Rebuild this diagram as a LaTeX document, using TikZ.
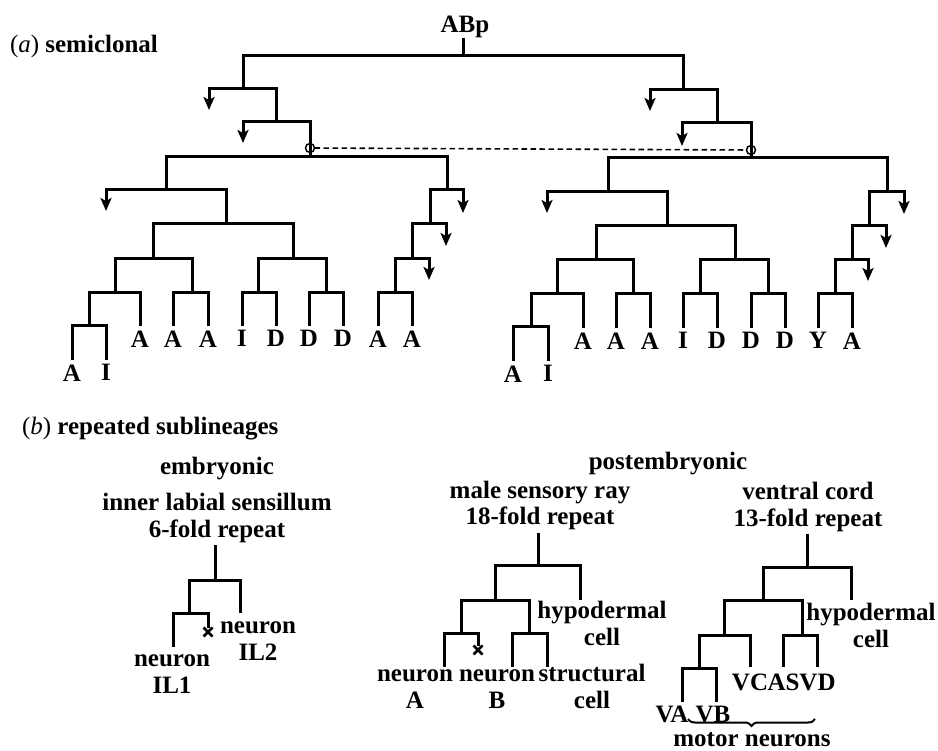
\documentclass[tikz,border=0pt]{standalone}
\usepackage{fontspec}
\setmainfont{Liberation Serif}
\usetikzlibrary{arrows.meta,shapes.misc,decorations.pathreplacing}
\begin{document}
\begin{tikzpicture}[x=1pt,y=-1pt,
  every node/.style={font=\fontsize{25}{27}\selectfont\bfseries, inner sep=0pt, outer sep=0pt},
  branch/.style={line width=3pt, line cap=butt, line join=miter},
  die/.style={branch, -{Stealth[length=13pt,width=11pt,inset=3pt]}},
  leaf/.style={anchor=north, inner ysep=4.5pt},
  lab/.style={anchor=base, align=center},
  title/.style={anchor=base, align=center, inner ysep=3pt},
  ring/.style={circle, draw, line width=1.5pt, minimum size=9pt},
  kill/.style={cross out, draw, line width=2.8pt, minimum size=9pt},
  fate/.style={dash pattern=on 5.5pt off 3.5pt, line width=1.6pt},
  clamp/.style={decorate, decoration={brace, mirror, amplitude=7pt}, line width=2pt}
]
\useasboundingbox (0,0) rectangle (938,751);

% ---------------- (a) semiclonal lineage of ABp ----------------
\node[anchor=base west] (capa) at (10,53) {\mdseries(\textit{a})\ \bfseries semiclonal};
\node[anchor=base] (ABp) at (465,33) {ABp};
\coordinate (a0) at (463,56);
\draw[branch] (a0 |- ABp.south) -- (a0);

% left half
\coordinate (a1) at (243,89);  \coordinate (a1d) at (209,110);
\coordinate (a2) at (276,122); \coordinate (a2d) at (243,143);
\coordinate (L)  at (310,157);
\coordinate (La) at (166,190); \coordinate (Lad) at (106,211);
\coordinate (Lb) at (226,224);
\coordinate (Lc) at (153,259);
\coordinate (Ld) at (115,293);
\coordinate (Le) at (89,326);
\coordinate (Lf) at (192,293);
\coordinate (Lg) at (293,259);
\coordinate (Lh) at (258,293);
\coordinate (Li) at (326,293);
\coordinate (Lj) at (447,190); \coordinate (Ljd) at (463,213);
\coordinate (Lk) at (430,224); \coordinate (Lkd) at (446,246);
\coordinate (Ll) at (412,259); \coordinate (Lld) at (429,280);
\coordinate (Lm) at (395,293);

\node[leaf] (t1)  at (72,360)  {A};
\node[leaf] (t2)  at (106,360) {I};
\node[leaf] (t3)  at (140,326) {A};
\node[leaf] (t4)  at (173,326) {A};
\node[leaf] (t5)  at (208,326) {A};
\node[leaf] (t6)  at (242,326) {I};
\node[leaf] (t7)  at (276,326) {D};
\node[leaf] (t8)  at (309,326) {D};
\node[leaf] (t9)  at (343,326) {D};
\node[leaf] (t10) at (378,326) {A};
\node[leaf] (t11) at (412,326) {A};

% right half
\coordinate (b1) at (683,90);  \coordinate (b1d) at (650,111);
\coordinate (b2) at (717,123); \coordinate (b2d) at (682,146);
\coordinate (R)  at (751,158);
\coordinate (Ra) at (608,192); \coordinate (Rad) at (547,213);
\coordinate (Rb) at (667,226);
\coordinate (Rc) at (596,260);
\coordinate (Rd) at (557,294);
\coordinate (Re) at (531,327);
\coordinate (Rf) at (633,294);
\coordinate (Rg) at (735,260);
\coordinate (Rh) at (700,294);
\coordinate (Ri) at (768,294);
\coordinate (Rj) at (887,192); \coordinate (Rjd) at (904,214);
\coordinate (Rk) at (869,226); \coordinate (Rkd) at (886,248);
\coordinate (Rl) at (852,260); \coordinate (Rld) at (868,281);
\coordinate (Rm) at (835,294);

\node[leaf] (u1)  at (513,361) {A};
\node[leaf] (u2)  at (548,361) {I};
\node[leaf] (u3)  at (583,328) {A};
\node[leaf] (u4)  at (616,328) {A};
\node[leaf] (u5)  at (650,328) {A};
\node[leaf] (u6)  at (683,328) {I};
\node[leaf] (u7)  at (717,328) {D};
\node[leaf] (u8)  at (751,328) {D};
\node[leaf] (u9)  at (785,328) {D};
\node[leaf] (u10) at (818,328) {Y};
\node[leaf] (u11) at (852,328) {A};

% branches, left
\draw[branch] (a1) |- (a0) -| (b1);
\draw[die] (a1) -| (a1d);
\draw[branch] (a1) -| (a2);
\draw[die] (a2) -| (a2d);
\draw[branch] (a2) -| (L);
\draw[branch] (La) |- (L) -| (Lj);
\draw[die] (La) -| (Lad);
\draw[branch] (La) -| (Lb);
\draw[branch] (Lc) |- (Lb) -| (Lg);
\draw[branch] (Ld) |- (Lc) -| (Lf);
\draw[branch] (Le) |- (Ld) -| (t3.north);
\draw[branch] (t1.north) |- (Le) -| (t2.north);
\draw[branch] (t4.north) |- (Lf) -| (t5.north);
\draw[branch] (Lh) |- (Lg) -| (Li);
\draw[branch] (t6.north) |- (Lh) -| (t7.north);
\draw[branch] (t8.north) |- (Li) -| (t9.north);
\draw[branch] (Lk) |- (Lj);  \draw[die] (Lj) -| (Ljd);
\draw[branch] (Ll) |- (Lk);  \draw[die] (Lk) -| (Lkd);
\draw[branch] (Lm) |- (Ll);  \draw[die] (Ll) -| (Lld);
\draw[branch] (t10.north) |- (Lm) -| (t11.north);

% branches, right
\draw[die] (b1) -| (b1d);
\draw[branch] (b1) -| (b2);
\draw[die] (b2) -| (b2d);
\draw[branch] (b2) -| (R);
\draw[branch] (Ra) |- (R) -| (Rj);
\draw[die] (Ra) -| (Rad);
\draw[branch] (Ra) -| (Rb);
\draw[branch] (Rc) |- (Rb) -| (Rg);
\draw[branch] (Rd) |- (Rc) -| (Rf);
\draw[branch] (Re) |- (Rd) -| (u3.north);
\draw[branch] (u1.north) |- (Re) -| (u2.north);
\draw[branch] (u4.north) |- (Rf) -| (u5.north);
\draw[branch] (Rh) |- (Rg) -| (Ri);
\draw[branch] (u6.north) |- (Rh) -| (u7.north);
\draw[branch] (u8.north) |- (Ri) -| (u9.north);
\draw[branch] (Rk) |- (Rj);  \draw[die] (Rj) -| (Rjd);
\draw[branch] (Rl) |- (Rk);  \draw[die] (Rk) -| (Rkd);
\draw[branch] (Rm) |- (Rl);  \draw[die] (Rl) -| (Rld);
\draw[branch] (u10.north) |- (Rm) -| (u11.north);

% equivalent cells joined by the dashed line
\node[ring] (ringL) at (310,148) {};
\node[ring] (ringR) at (751,150) {};
\draw[fate] (ringL) -- (ringR);

% ---------------- (b) repeated sublineages ----------------
\node[anchor=base west] (capb) at (22,435) {\mdseries(\textit{b})\ \bfseries repeated sublineages};

% inner labial sensillum (multi-line nodes sit on their last baseline)
\node[anchor=base] (emb) at (217,475) {embryonic};
\node[title] (ilt) at (217,537) {inner labial sensillum\\6-fold repeat};
\coordinate (i0) at (215,580);
\coordinate (i1) at (189,613);
\coordinate (i2) at (240,613);
\coordinate (i3) at (173,647);
\node[kill] (ix) at (208,632) {};
\draw[branch] (i0 |- ilt.south) -- (i0);
\draw[branch] (i1) |- (i0) -| (i2);
\draw[branch] (i3) |- (i1) -| (ix.north);
\node[lab] (il2) at (258,660) {neuron\\IL2};
\node[lab] (il1) at (172,693) {neuron\\IL1};

% male sensory ray
\node[anchor=base] (post) at (668,470) {postembryonic};
\node[title] (srt) at (540,525) {male sensory ray\\18-fold repeat};
\coordinate (s0) at (538,565);
\coordinate (s1) at (495,600);
\coordinate (s2) at (580,600);
\coordinate (s3) at (461,633);
\coordinate (s4) at (529,633);
\coordinate (s5) at (444,667);
\coordinate (s6) at (512,667);
\coordinate (s7) at (547,667);
\node[kill] (sx) at (478,650) {};
\draw[branch] (s0 |- srt.south) -- (s0);
\draw[branch] (s1) |- (s0) -| (s2);
\draw[branch] (s3) |- (s1) -| (s4);
\draw[branch] (s5) |- (s3) -| (sx.north);
\draw[branch] (s6) |- (s4) -| (s7);
\node[lab] (sh) at (602,645) {hypodermal\\cell};
\node[lab] (sa) at (415,708) {neuron\\A};
\node[lab] (sb) at (497,708) {neuron\\B};
\node[lab] (sc) at (592,708) {structural\\cell};

% ventral cord
\node[title] (vct) at (808,526) {ventral cord\\13-fold repeat};
\coordinate (v0) at (807,567);
\coordinate (v1) at (763,600);
\coordinate (v2) at (851,600);
\coordinate (v3) at (724,635);
\coordinate (v4) at (802,635);
\coordinate (v5) at (699,668);
\coordinate (v6) at (682,702);
\coordinate (v7) at (716,702);
\coordinate (v8) at (750,667);
\coordinate (v9) at (783,667);
\coordinate (v10) at (817,667);
\draw[branch] (v0 |- vct.south) -- (v0);
\draw[branch] (v1) |- (v0) -| (v2);
\draw[branch] (v3) |- (v1) -| (v4);
\draw[branch] (v5) |- (v3) -| (v8);
\draw[branch] (v6) |- (v5) -| (v7);
\draw[branch] (v9) |- (v4) -| (v10);
\node[lab] (vh) at (871,647) {hypodermal\\cell};
\node[lab] (vc) at (750,690) {VC};
\node[lab] (as) at (783.5,690) {AS};
\node[lab] (vd) at (817.5,690) {VD};
\node[lab] (va) at (672,722) {VA};
\node[lab] (vb) at (713,722) {VB};
\coordinate (mn1) at (688,719);
\coordinate (mn2) at (815,719);
\draw[clamp] (mn1) -- (mn2);
\node[lab] (mn) at (752,746) {motor neurons};
\end{tikzpicture}
\end{document}
